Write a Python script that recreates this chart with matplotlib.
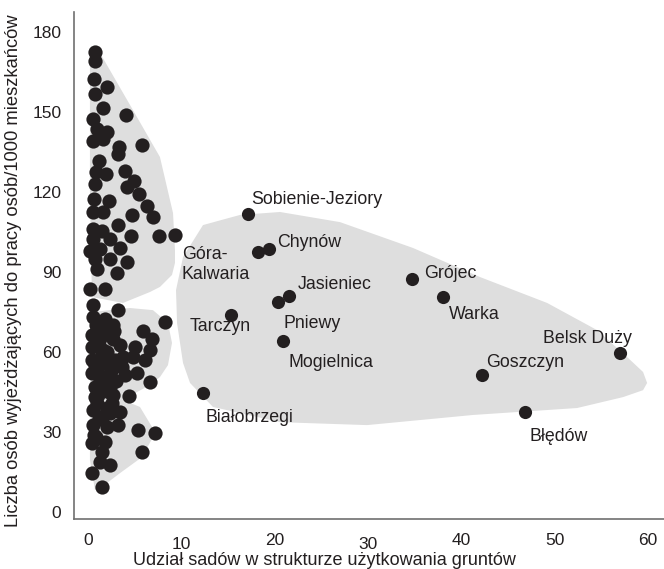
import numpy as np
import matplotlib
matplotlib.use("Agg")
import matplotlib.pyplot as plt
from matplotlib.patches import Polygon

plt.rcParams['font.family'] = ['Liberation Sans', 'DejaVu Sans']

# gminy z niskim udzialem sadow (bez podpisow)
x_low = [0.75, 0.75, 0.64, 2.04, 0.75, 1.61, 4.07, 0.54, 0.96, 2.04, 0.54, 1.61,
         5.79, 3.32, 3.22, 1.18, 3.97, 0.86, 1.93, 4.93, 0.75, 4.18, 5.47, 0.64,
         2.25, 6.32, 0.54, 1.61, 4.72, 6.97, 3.22, 0.54, 1.50, 4.61, 7.61, 9.32,
         0.54, 2.36, 0.21, 1.29, 3.43, 0.75, 2.36, 4.18, 0.96, 3.11, 0.21, 1.82,
         0.54, 3.22, 8.25, 0.54, 1.82, 2.68, 5.89, 6.86, 0.43, 1.61, 3.43, 5.04,
         6.65, 0.43, 1.61, 3.75, 4.82, 6.11, 0.43, 1.82, 3.64, 5.25, 3.97, 0.43,
         1.82, 6.65, 0.75, 2.36, 0.75, 2.68, 4.39, 0.54, 2.04, 3.43, 2.36, 0.54,
         2.04, 3.22, 5.36, 7.18, 0.43, 1.82, 5.79, 1.50, 1.29, 2.36, 0.43, 1.50,
         0.9, 1.2, 0.8, 1.3, 1.0, 1.2, 0.9, 2.0, 2.5, 2.2, 1.1, 2.8,
         1.4, 2.9, 1.0, 2.6, 1.6, 3.0, 1.1, 2.7, 1.7, 0.6]
y_low = [172.6, 169.2, 162.4, 159.4, 156.8, 151.5, 148.9, 147.4, 143.6, 142.5, 139.1, 139.8,
         137.6, 136.8, 134.2, 131.6, 127.8, 127.4, 126.7, 124.1, 122.9, 121.8, 119.2, 117.3,
         116.5, 114.7, 112.4, 112.4, 111.3, 110.5, 107.5, 106.0, 105.3, 103.4, 103.4, 103.8,
         102.3, 102.3, 97.7, 98.5, 98.9, 94.7, 94.7, 93.6, 91.0, 89.5, 83.5, 83.8,
         77.8, 75.9, 71.1, 73.3, 72.2, 70.3, 67.7, 64.7, 66.5, 66.5, 62.8, 62.0,
         60.9, 62.0, 60.9, 58.3, 58.3, 57.1, 57.1, 56.0, 54.5, 52.3, 51.5, 52.3,
         50.8, 48.9, 47.0, 47.0, 43.2, 44.0, 43.6, 38.3, 39.1, 37.6, 37.2, 32.7,
         32.0, 32.7, 30.8, 29.7, 25.9, 26.3, 22.6, 22.6, 18.8, 17.7, 14.7, 9.4,
         70.0, 64.0, 55.0, 49.0, 41.0, 35.0, 28.0, 60.0, 53.0, 45.0, 44.0, 68.0,
         58.0, 57.0, 46.0, 41.0, 36.0, 49.0, 52.0, 65.0, 69.0, 29.0]

# gminy podpisane
names = ["Sobienie-Jeziory", "Góra-\nKalwaria", "Chynów", "Jasieniec", "Pniewy",
         "Tarczyn", "Mogielnica", "Białobrzegi", "Grójec", "Warka", "Goszczyn",
         "Błędów", "Belsk Duży"]
x_named = [17.1, 18.2, 19.4, 21.5, 20.4, 15.3, 20.9, 12.3, 34.7, 38.0, 42.2, 46.8, 57.0]
y_named = [111.6, 97.4, 98.5, 81.0, 78.7, 73.9, 64.1, 44.6, 87.4, 80.6, 51.4, 37.5, 59.6]

# obrysy grup (szare tlo)
group_top = [(0.21, 169.5), (1.29, 172.1), (4.82, 150.7), (7.71, 133.1), (9.11, 112.1),
             (9.32, 98.2), (9.32, 93.4), (9.0, 88.9), (7.71, 84.4), (6.64, 82.5),
             (3.75, 78.4), (0.43, 80.6), (0.21, 117.0)]
group_bottom = [(0.43, 75.0), (4.5, 76.5), (6.96, 75.7), (8.57, 70.9), (9.0, 63.4),
                (8.57, 55.1), (7.71, 50.6), (6.64, 47.6), (5.04, 44.6), (3.75, 42.0),
                (5.57, 39.4), (6.86, 31.9), (6.96, 28.1), (5.79, 20.6), (3.43, 14.6),
                (2.04, 10.9), (0.75, 8.2), (0.21, 19.5), (0.21, 68.2)]
group_big = [(12.32, 107.6), (16.29, 111.4), (20.57, 112.5), (27.0, 108.7), (34.82, 99.0),
             (42.0, 88.1), (49.18, 78.4), (54.54, 68.2), (57.75, 58.1), (59.46, 52.5),
             (59.89, 48.4), (59.46, 45.7), (57.32, 43.1), (52.39, 39.0), (41.25, 36.4),
             (29.89, 32.6), (20.57, 33.7), (13.39, 39.4), (10.93, 48.4), (10.18, 55.9),
             (9.54, 70.9), (9.43, 83.2), (10.18, 95.6)]

xticks = [0, 10, 20, 30, 40, 50, 60]
yticks = [0, 30, 60, 90, 120, 150, 180]

# przesuniecia podpisow w pikselach: (dx, dy, ha)
label_pos = {
    "Sobienie-Jeziory": (4, 15, "left"),
    "Góra-\nKalwaria": (-8, -12, "right"),
    "Chynów": (8, 7, "left"),
    "Jasieniec": (9, 12, "left"),
    "Pniewy": (5, -21, "left"),
    "Tarczyn": (-11, -12, "center"),
    "Mogielnica": (5, -21, "left"),
    "Białobrzegi": (3, -24, "left"),
    "Grójec": (12, 5, "left"),
    "Warka": (6, -17, "left"),
    "Goszczyn": (4, 12, "left"),
    "Błędów": (5, -24, "left"),
    "Belsk Duży": (12, 15, "right"),
}

fig = plt.figure(figsize=(6.64, 5.69), dpi=100)
ax = fig.add_axes([0.1114, 0.0879, 0.8886, 0.8911])

for poly in (group_top, group_bottom, group_big):
    ax.add_patch(Polygon(poly, closed=True, facecolor="#dedede", edgecolor="none", zorder=1))

dot = "#231f20"
ax.scatter(x_low, y_low, s=105, color=dot, linewidths=0, zorder=3)
ax.scatter(x_named, y_named, s=90, color=dot, linewidths=0, zorder=3)

for n, xv, yv in zip(names, x_named, y_named):
    dx, dy, ha = label_pos[n]
    ax.annotate(n, (xv, yv), xytext=(dx, dy), textcoords="offset pixels",
                ha=ha, va="center", multialignment="left",
                fontsize=12.8, color="#231f20", zorder=4)

ax.set_xlim(-1.5, 61.7)
ax.set_ylim(-2.6, 187.5)
ax.set_xticks(xticks)
ax.set_yticks(yticks)
ax.tick_params(length=0, labelsize=12.5, colors="#231f20")
ax.tick_params(axis="x", pad=10)
ax.tick_params(axis="y", pad=9)

# w oryginale etykiety 10 i 30 sa troche nizej
for val, tick in zip(xticks, ax.xaxis.get_major_ticks()):
    if val in (10, 30):
        tick.set_pad(13)

for side in ("top", "right"):
    ax.spines[side].set_visible(False)
for side in ("left", "bottom"):
    ax.spines[side].set_color("#707070")
    ax.spines[side].set_linewidth(1.2)

ax.set_xlabel("Udział sadów w strukturze użytkowania gruntów", fontsize=13, color="#231f20")
ax.xaxis.set_label_coords(0.425, -0.066)
ax.set_ylabel("Liczba osób wyjeżdżających do pracy osób/1000 mieszkańców",
              fontsize=13.2, color="#231f20")
ax.yaxis.set_label_coords(-0.088, 0.49)

fig.savefig("out.png", dpi=100)
